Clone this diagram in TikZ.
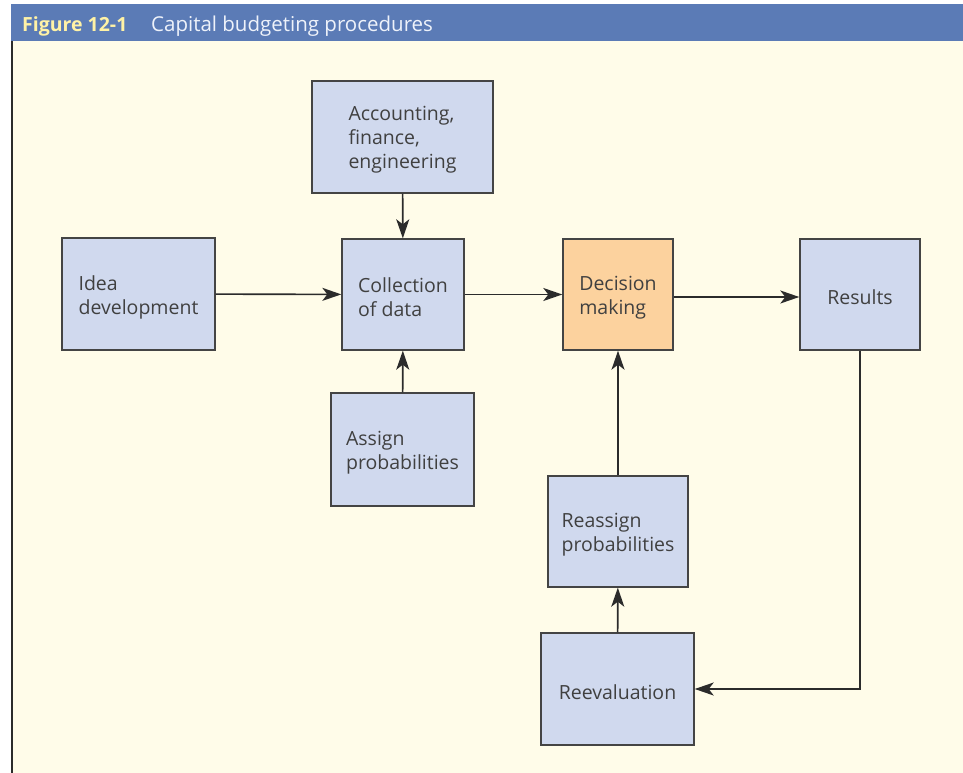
\documentclass[tikz,border=0pt]{standalone}
\usepackage{fontspec}
\setmainfont{Open Sans}
\usetikzlibrary{arrows.meta}
\definecolor{bar}{HTML}{5B7BB6}
\definecolor{cream}{HTML}{FFFCE9}
\definecolor{boxblue}{HTML}{D0D9EE}
\definecolor{boxorange}{HTML}{FCD29E}
\definecolor{ink}{HTML}{2B2B2B}
\definecolor{edge}{HTML}{444444}
\definecolor{titleyellow}{HTML}{FFF2A6}
\definecolor{titlewhite}{HTML}{EEF2FA}
\tikzset{
  blk/.style={draw=edge, fill=boxblue, line width=1.4pt, inner sep=0pt},
  txt/.style={align=left, text=ink!90, font=\fontsize{19.5}{24}\selectfont,
    inner sep=0pt, yshift=-3pt},
  conn/.style={draw=ink, line width=1.6pt,
    -{Stealth[length=19pt,width=13pt,inset=5pt]}},
}
\begin{document}
\begin{tikzpicture}[x=1pt,y=-1pt]
\useasboundingbox (0,0) rectangle (963,773);
\fill[white] (0,0) rectangle (963,773);
\fill[cream] (11,41) rectangle (963,773);
\fill[bar] (11,4) rectangle (963,41);
\draw[ink, line width=1.5pt] (11.75,41) -- (11.75,773);
\node[anchor=base west, text=titleyellow, font=\fontsize{19.5}{22}\bfseries\selectfont, inner sep=0pt] (fig) at (22,31.5) {Figure 12-1};
\node[anchor=base west, text=titlewhite, font=\fontsize{20.5}{22}\selectfont, inner sep=0pt] (ttl) at (151,31.5) {Capital budgeting procedures};

\node[blk, minimum width=181pt, minimum height=112pt, label={[txt]center:{Accounting,\\finance,\\engineering}}] (acc) at (402.5,137) {};
\node[blk, minimum width=153pt, minimum height=112pt, label={[txt]center:{Idea\\development}}] (idea) at (138.5,294) {};
\node[blk, minimum width=122pt, minimum height=111pt, label={[txt]center:{Collection\\of data}}] (col) at (403,294.5) {};
\node[blk, fill=boxorange, minimum width=110pt, minimum height=111pt, label={[txt]center:{Decision\\making}}] (dec) at (618,294.5) {};
\node[blk, minimum width=120pt, minimum height=111pt, label={[txt]center:{Results}}] (res) at (860,294.5) {};
\node[blk, minimum width=143pt, minimum height=113pt, label={[txt]center:{Assign\\probabilities}}] (asg) at (402.5,449.5) {};
\node[blk, minimum width=140pt, minimum height=111pt, label={[txt]center:{Reassign\\probabilities}}] (rea) at (618,531.5) {};
\node[blk, minimum width=153pt, minimum height=112pt, label={[txt]center:{Reevaluation}}] (rev) at (617.5,689) {};

\draw[conn] (acc) -- (col);
\draw[conn] (idea) -- (col);
\draw[conn] (col) -- (dec);
\draw[conn] ([yshift=-2.5pt]dec.east) -- ([yshift=-2.5pt]res.west);
\draw[conn] (asg) -- (col);
\draw[conn] (rea) -- (dec);
\draw[conn] (rev) -- (rea);
\draw[conn] (res.south) |- (rev.east);
\end{tikzpicture}
\end{document}
